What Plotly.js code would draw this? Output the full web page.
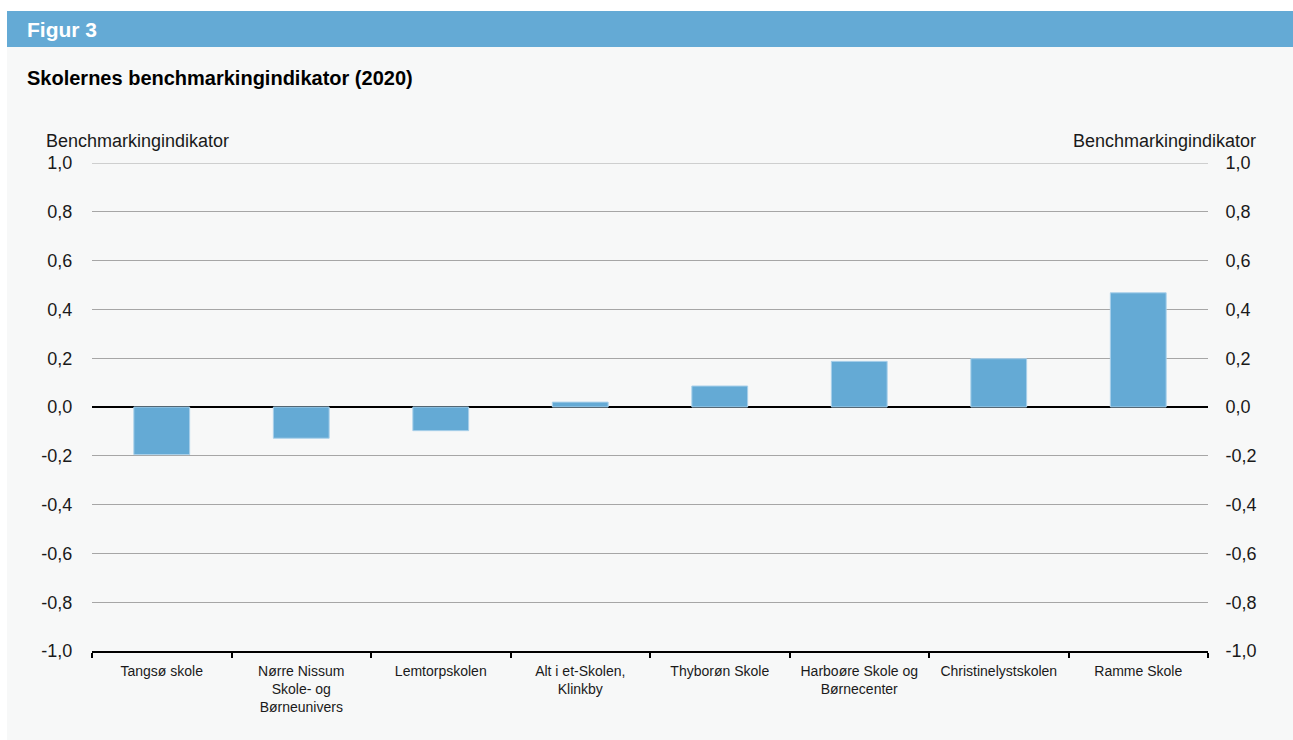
<!DOCTYPE html>
<html>
<head>
<meta charset="utf-8">
<script src="https://cdn.plot.ly/plotly-3.0.1.min.js"></script>
<style>html,body{margin:0;padding:0;background:#fff;}#chart{width:1293px;height:740px;}</style>
</head>
<body>
<div id="chart"></div>
<script>
const categories = [
  "Tangsø skole",
  "Nørre Nissum<br>Skole- og<br>Børneunivers",
  "Lemtorpskolen",
  "Alt i et-Skolen,<br>Klinkby",
  "Thyborøn Skole",
  "Harboøre Skole og<br>Børnecenter",
  "Christinelystskolen",
  "Ramme Skole"
];
const values = [-0.195, -0.128, -0.097, 0.02, 0.086, 0.187, 0.198, 0.468];
const yTicks = [-1, -0.8, -0.6, -0.4, -0.2, 0, 0.2, 0.4, 0.6, 0.8, 1];
const yTickLabels = ["-1,0", "-0,8", "-0,6", "-0,4", "-0,2", "0,0", "0,2", "0,4", "0,6", "0,8", "1,0"];
const figureLabel = "Figur 3";
const chartTitle = "Skolernes benchmarkingindikator (2020)";
const axisTitle = "Benchmarkingindikator";

const FONT = "Liberation Sans, Arial, sans-serif";
const BLUE = "#64aad5";

const L = 92, R = 1208, T = 163, B = 651, W = 1293, H = 740;
const px = x => (x - L) / (R - L);
const py = y => (B - y) / (B - T);
const yMin = yTicks[0], yMax = yTicks[yTicks.length - 1];

const trace = {
  type: "bar",
  x: categories,
  y: values,
  marker: {color: BLUE, line: {color: "#a9d0ea", width: 1}},
  hoverinfo: "x+y"
};
// transparent copy bound to the right-hand axis so that axis is drawn
const traceRight = {
  type: "bar",
  x: categories,
  y: values,
  yaxis: "y2",
  marker: {color: "rgba(0,0,0,0)", line: {width: 0}},
  hoverinfo: "skip"
};

const layout = {
  width: W, height: H,
  margin: {l: L, r: W - R, t: T, b: H - B, pad: 0},
  paper_bgcolor: "#ffffff",
  plot_bgcolor: "rgba(0,0,0,0)",
  font: {family: FONT, size: 18, color: "#1a1a1a"},
  separators: ",.",
  showlegend: false,
  bargap: 0.6,
  barmode: "group",
  xaxis: {
    type: "category",
    tickson: "boundaries",
    ticks: "outside", ticklen: 5, tickwidth: 2, tickcolor: "#000",
    ticklabelstandoff: 6,
    showline: true, linecolor: "#000", linewidth: 2,
    showgrid: false, zeroline: false,
    tickfont: {size: 14, color: "#1a1a1a"},
    automargin: false
  },
  yaxis: {
    range: [yMin, yMax], tickmode: "array", tickvals: yTicks, ticktext: yTickLabels,
    showgrid: true, gridcolor: "#a6a6a6", gridwidth: 1,
    zeroline: true, zerolinecolor: "#000", zerolinewidth: 2,
    ticks: "outside", ticklen: 15, tickcolor: "rgba(0,0,0,0)",
    tickfont: {size: 18},
    showline: false, fixedrange: true, automargin: false
  },
  yaxis2: {
    overlaying: "y", side: "right", anchor: "x",
    range: [yMin, yMax], tickmode: "array", tickvals: yTicks, ticktext: yTickLabels,
    showgrid: false, zeroline: false,
    ticks: "outside", ticklen: 13, tickcolor: "rgba(0,0,0,0)",
    tickfont: {size: 18},
    showline: false, fixedrange: true, automargin: false
  },
  shapes: [
    {type: "rect", xref: "paper", yref: "paper", layer: "below",
     x0: px(7), x1: px(1293), y0: py(740), y1: py(47),
     fillcolor: "#f7f8f8", line: {width: 0}},
    {type: "rect", xref: "paper", yref: "paper", layer: "below",
     x0: px(7), x1: px(1293), y0: py(47), y1: py(11),
     fillcolor: BLUE, line: {width: 0}},
    // top gridline at the upper range edge
    {type: "line", xref: "paper", yref: "y", layer: "below",
     x0: 0, x1: 1, y0: yMax, y1: yMax,
     line: {color: "#a6a6a6", width: 1}}
  ],
  annotations: [
    {text: "<b>" + figureLabel + "</b>", xref: "paper", yref: "paper",
     x: px(25), y: py(29), xanchor: "left", yanchor: "middle", showarrow: false,
     font: {family: FONT, size: 21, color: "#ffffff"}},
    {text: "<b>" + chartTitle + "</b>", xref: "paper", yref: "paper",
     x: px(25), y: py(78), xanchor: "left", yanchor: "middle", showarrow: false,
     font: {family: FONT, size: 20, color: "#000000"}},
    {text: axisTitle, xref: "paper", yref: "paper",
     x: px(44), y: py(141), xanchor: "left", yanchor: "middle", showarrow: false,
     font: {family: FONT, size: 18, color: "#1a1a1a"}},
    {text: axisTitle, xref: "paper", yref: "paper",
     x: px(1258), y: py(141), xanchor: "right", yanchor: "middle", showarrow: false,
     font: {family: FONT, size: 18, color: "#1a1a1a"}}
  ]
};

Plotly.newPlot("chart", [trace, traceRight], layout, {displayModeBar: false, staticPlot: true});
</script>
</body>
</html>
